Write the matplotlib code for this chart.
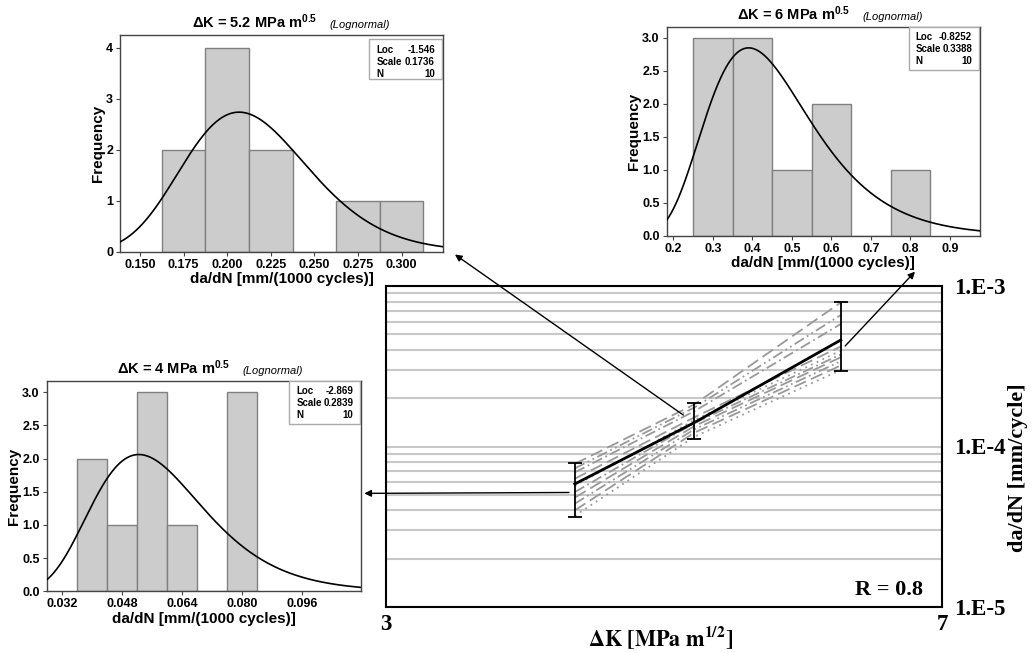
import numpy as np
import matplotlib
matplotlib.use("Agg")
import matplotlib.pyplot as plt
from matplotlib.patches import Rectangle, ConnectionPatch
from matplotlib.ticker import FixedLocator, FixedFormatter, NullLocator, LogLocator, FormatStrFormatter

plt.rcParams["font.family"] = ["Liberation Sans", "DejaVu Sans"]
plt.rcParams["mathtext.fontset"] = "custom"
plt.rcParams["mathtext.rm"] = "Liberation Sans"
plt.rcParams["mathtext.bf"] = "Liberation Sans:bold"
plt.rcParams["mathtext.it"] = "Liberation Sans:italic"

# ---- crack growth rates of ten specimens, mm/(1000 cycles) ----
rate_dk4 = [0.039, 0.042, 0.048, 0.054, 0.056, 0.058, 0.063, 0.077, 0.079, 0.081]
rate_dk52 = [0.170, 0.181, 0.193, 0.198, 0.204, 0.209, 0.218, 0.231, 0.274, 0.301]
rate_dk6 = [0.27, 0.30, 0.34, 0.37, 0.41, 0.44, 0.49, 0.57, 0.63, 0.81]

bins_dk4 = [0.036, 0.044, 0.052, 0.060, 0.068, 0.076, 0.084]
bins_dk52 = [0.1625, 0.1875, 0.2125, 0.2375, 0.2625, 0.2875, 0.3125]
bins_dk6 = [0.25, 0.35, 0.45, 0.55, 0.65, 0.75, 0.85]

xticks_dk4 = [0.032, 0.048, 0.064, 0.080, 0.096]
xticks_dk52 = [0.150, 0.175, 0.200, 0.225, 0.250, 0.275, 0.300]
xticks_dk6 = [0.2, 0.3, 0.4, 0.5, 0.6, 0.7, 0.8, 0.9]

yticks_dk4 = [0.0, 0.5, 1.0, 1.5, 2.0, 2.5, 3.0]
yticks_dk52 = [0, 1, 2, 3, 4]
yticks_dk6 = [0.0, 0.5, 1.0, 1.5, 2.0, 2.5, 3.0]

# lognormal fits (loc, scale, N)
fit_dk4 = (-2.869, 0.2839, 10)
fit_dk52 = (-1.546, 0.1736, 10)
fit_dk6 = (-0.8252, 0.3388, 10)

# ---- Paris-regime summary, mm/cycle ----
dk_points = [4.0, 4.8, 6.0]
mean_rate = [5.84e-5, 1.41e-4, 4.61e-4]
lower_rate = [3.65e-5, 1.12e-4, 2.97e-4]
upper_rate = [7.86e-5, 1.86e-4, 7.98e-4]

specimen_rates = [
    [7.8e-5, 1.83e-4, 7.90e-4],
    [7.3e-5, 1.75e-4, 6.60e-4],
    [6.9e-5, 1.66e-4, 5.80e-4],
    [6.3e-5, 1.52e-4, 4.20e-4],
    [5.7e-5, 1.46e-4, 3.95e-4],
    [5.2e-5, 1.40e-4, 3.75e-4],
    [4.8e-5, 1.34e-4, 3.60e-4],
    [4.4e-5, 1.28e-4, 3.40e-4],
    [4.0e-5, 1.22e-4, 3.20e-4],
    [3.7e-5, 1.15e-4, 3.00e-4],
]
specimen_styles = [
    (0, (7, 3)),
    (0, (6, 2, 1, 2, 1, 2)),
    (0, (6, 2, 1, 2)),
    (0, (7, 3)),
    (0, (1, 2.5)),
    (0, (6, 2, 1, 2)),
    (0, (7, 3)),
    (0, (6, 2, 1, 2, 1, 2)),
    (0, (7, 3)),
    (0, (1, 2.5)),
]

main_xticks = [3, 7]
main_xticklabels = ["3", "7"]
main_yticks = [1e-5, 1e-4, 1e-3]
main_yticklabels = ["1.E-5", "1.E-4", "1.E-3"]

W, H = 1033, 653
fig = plt.figure(figsize=(W / 100, H / 100), dpi=100)


def px_axes(left, top, right, bottom):
    return fig.add_axes([left / W, 1 - bottom / H, (right - left) / W, (bottom - top) / H])


def histogram(ax, rates, bins, fit, xlim, ylim, xticks, yticks, yfmt,
              dk_text, title_split, box_top):
    mu, s, n = fit
    ax.hist(rates, bins=bins, color="#cccccc", edgecolor="#808080", linewidth=1.0, zorder=2)
    width = bins[1] - bins[0]
    xs = np.linspace(xlim[0], xlim[1], 400)
    pdf = np.exp(-(np.log(xs) - mu) ** 2 / (2 * s ** 2)) / (xs * s * np.sqrt(2 * np.pi))
    ax.plot(xs, pdf * n * width, color="black", lw=1.2, zorder=3)
    ax.set_xlim(*xlim)
    ax.set_ylim(*ylim)
    ax.xaxis.set_major_locator(FixedLocator(xticks))
    ax.xaxis.set_major_formatter(FormatStrFormatter("%.3f" if xticks[0] < 0.19 else "%.1f"))
    ax.yaxis.set_major_locator(FixedLocator(yticks))
    ax.yaxis.set_major_formatter(FormatStrFormatter(yfmt))
    for sp in ax.spines.values():
        sp.set_color("#444444")
        sp.set_linewidth(1.0)
    ax.tick_params(direction="out", length=3, width=0.8, color="#444444", pad=2,
                   labelsize=9)
    for lab in ax.get_xticklabels() + ax.get_yticklabels():
        lab.set_fontweight("bold")
    ax.set_xlabel("da/dN [mm/(1000 cycles)]", fontsize=11, fontweight="bold", labelpad=1)
    ax.set_ylabel("Frequency", fontsize=11, fontweight="bold", labelpad=1)
    # title: bold value part followed by the italic distribution name
    ax.text(title_split, 1.03, r"ΔK = %s MPa m$^{\mathbf{0.5}}$" % dk_text,
            transform=ax.transAxes, ha="right", va="baseline", fontsize=10.5,
            fontweight="bold")
    ax.text(title_split + 0.04, 1.03, "(Lognormal)", transform=ax.transAxes,
            ha="left", va="baseline", fontsize=8, style="italic")
    # fit summary box
    ax.add_patch(Rectangle((0.772, 0.795), 0.226, box_top - 0.795, transform=ax.transAxes,
                           facecolor="white", edgecolor="#aaaaaa", lw=1.0, zorder=4))
    rows = [("Loc", "%g" % mu), ("Scale", "%g" % s), ("N", "%d" % n)]
    row_y = [box_top - 0.048, box_top - 0.105, box_top - 0.162]
    for (k, v), yy in zip(rows, row_y):
        ax.text(0.795, yy, k, transform=ax.transAxes, fontsize=7, fontweight="bold",
                ha="left", va="center", zorder=5)
        ax.text(0.975, yy, v, transform=ax.transAxes, fontsize=7, fontweight="bold",
                ha="right", va="center", zorder=5)


ax52 = px_axes(120, 35, 443, 251.7)
histogram(ax52, rate_dk52, bins_dk52, fit_dk52, (0.1385, 0.3237), (0, 4.25),
          xticks_dk52, yticks_dk52, "%d", "5.2", 0.61, 0.98)

ax6 = px_axes(666.7, 26.7, 980, 235.7)
histogram(ax6, rate_dk6, bins_dk6, fit_dk6, (0.1833, 0.976), (0, 3.167),
          xticks_dk6, yticks_dk6, "%.1f", "6", 0.585, 0.997)

ax4 = px_axes(46.7, 380.7, 361, 591.3)
histogram(ax4, rate_dk4, bins_dk4, fit_dk4, (0.0278, 0.1116), (0, 3.175),
          xticks_dk4, yticks_dk4, "%.1f", "4", 0.583, 0.997)

# ---- main crack growth plot ----
ax = px_axes(386, 286, 942, 607)
ax.set_xscale("log")
ax.set_yscale("log")
ax.set_xlim(3, 7)
ax.set_ylim(1e-5, 1e-3)
ax.set_axisbelow(True)

for vals, ls in zip(specimen_rates, specimen_styles):
    ax.plot(dk_points, vals, color="#999999", lw=1.3, linestyle=ls, zorder=2)

ax.plot(dk_points, mean_rate, color="black", lw=2.0, zorder=4)
yerr = [np.array(mean_rate) - np.array(lower_rate), np.array(upper_rate) - np.array(mean_rate)]
ax.errorbar(dk_points, mean_rate, yerr=yerr, fmt="none", ecolor="black", elinewidth=1.3,
            capsize=5, capthick=1.3, zorder=5)

ax.xaxis.set_major_locator(FixedLocator(main_xticks))
ax.xaxis.set_major_formatter(FixedFormatter(main_xticklabels))
ax.xaxis.set_minor_locator(NullLocator())
ax.yaxis.set_major_locator(FixedLocator(main_yticks))
ax.yaxis.set_major_formatter(FixedFormatter(main_yticklabels))
ax.yaxis.set_minor_locator(LogLocator(base=10, subs=np.arange(2, 10)))
ax.yaxis.set_minor_formatter(FixedFormatter([]))
ax.yaxis.tick_right()
ax.yaxis.set_label_position("right")
ax.grid(axis="y", which="both", color="#c8c8c8", lw=1.5)
ax.tick_params(axis="both", which="both", length=0)
ax.tick_params(axis="y", pad=9, labelsize=16.5)
ax.tick_params(axis="x", pad=5, labelsize=16.5)
for lab in ax.get_xticklabels() + ax.get_yticklabels():
    lab.set_fontfamily("Liberation Serif")
    lab.set_fontweight("bold")
for sp in ax.spines.values():
    sp.set_color("black")
    sp.set_linewidth(1.5)

ax.set_xlabel(r"$\mathbf{\Delta K\ [MPa\ m^{1/2}]}$", fontsize=16, math_fontfamily="stix")
ax.xaxis.set_label_coords(0.494, -0.055)
ax.set_ylabel("da/dN [mm/cycle]", fontsize=16, fontweight="bold", family="Liberation Serif",
              rotation=90)
ax.yaxis.set_label_coords(1.118, 0.433)
ax.text(0.966, 0.053, "R = 0.8", transform=ax.transAxes, ha="right", va="center",
        fontsize=16, fontweight="bold", family="Liberation Serif")

# ---- arrows linking each ΔK level to its distribution ----
links = [
    ((3.965, 5.17e-5), ax4, (1.0105, 0.465)),
    ((4.719, 1.571e-4), ax52, (1.037, -0.013)),
    ((6.04, 4.23e-4), ax6, (0.7925, -0.172)),
]
for start, target, tip in links:
    con = ConnectionPatch(xyA=start, coordsA=ax.transData, xyB=tip, coordsB=target.transAxes,
                          arrowstyle="-|>", mutation_scale=10, lw=1.0, color="black",
                          shrinkA=0, shrinkB=0)
    fig.add_artist(con)

fig.savefig("out.png", dpi=100, facecolor="white")
